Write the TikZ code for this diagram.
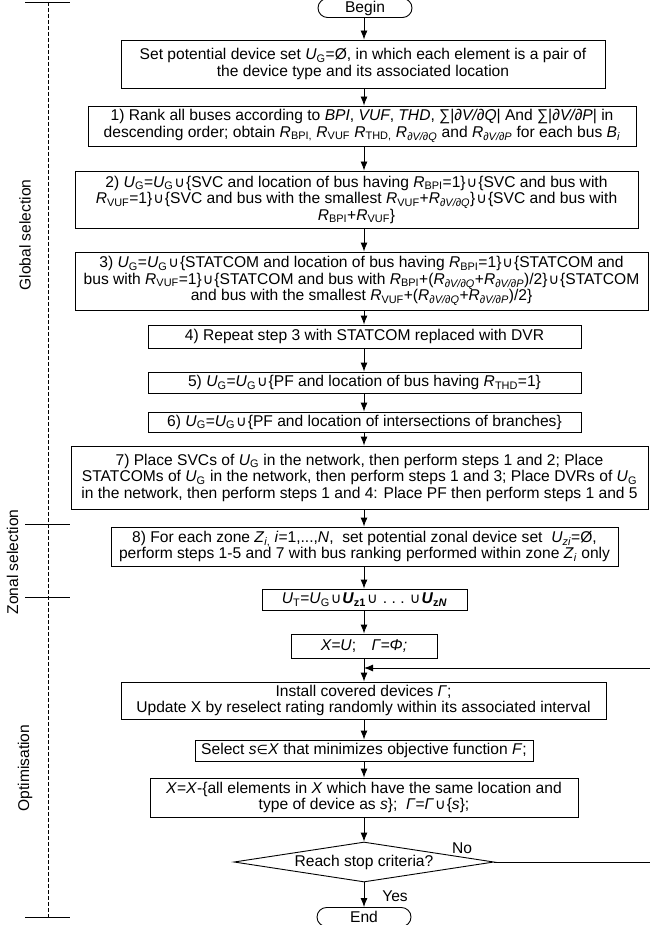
\documentclass[tikz,border=0pt]{standalone}
\usepackage{fontspec}
\setmainfont{Liberation Sans}
\newfontfamily\symfont{DejaVu Sans}
\usetikzlibrary{arrows.meta}
\usetikzlibrary{shapes.geometric,shapes.misc}

\newcommand{\Rx}[1]{\textit{R}\textsubscript{#1}}
\newcommand{\Ux}[1]{\textit{U}\textsubscript{#1}}
\newcommand{\uu}{{\kern1pt\symfont\fontsize{14.5}{14.5}\selectfont ∪\kern1pt}}
\newcommand{\pq}{\textit{∂V/∂Q}}
\newcommand{\pp}{\textit{∂V/∂P}}

\tikzset{
	txt/.style={font=\fontsize{15.6}{16.5}\selectfont},
	box/.style={txt,draw,rectangle,inner sep=0pt,align=center},
	term/.style={txt,draw,rounded rectangle,inner sep=0pt,minimum width=94pt,minimum height=19pt},
	test/.style={txt,draw,diamond,aspect=6.5,inner sep=0pt,minimum width=260pt,minimum height=40pt},
	flow/.style={-{Latex[length=9pt,width=7pt]}},
	phase/.style={txt,rotate=90},
}

\begin{document}
\begin{tikzpicture}[x=1pt,y=-1pt,line width=0.9pt]
			\useasboundingbox (0,0) rectangle (649,925);
			\coordinate (ax) at (364,0);
			\coordinate (rt) at (652,0);
			\coordinate (back) at (364,668);
			\draw[dash pattern=on 4pt off 2pt,line width=0.6pt] (48,2) -- (48,917);
			\draw (25,2) -- (70,2);
			\draw (25,524) -- (70,524);
			\draw (25,597) -- (70,597);
			\draw (25,917) -- (70,917);
			\node[phase] (glob) at (25,235) {Global selection};
			\node[phase] (zon) at (12.5,562) {Zonal selection};
			\node[phase] (opt) at (25,768) {Optimisation};
			\node[term] (begin) at (365,8) {Begin};
			\node[box,minimum width=484pt,minimum height=48pt] (set) at (363,64) {Set potential device set \Ux{G}=Ø, in which each element is a pair of\\the device type and its associated location};
			\node[box,minimum width=548pt,minimum height=40pt] (rank) at (362,126) {1) Rank all buses according to \textit{BPI}, \textit{VUF}, \textit{THD}, ∑|\pq| And ∑|\pp| in\\descending order; obtain \Rx{BPI,} \Rx{VUF} \Rx{THD,} \Rx{\pq} and \Rx{\pp} for each bus \textit{B}\textsubscript{\textit{i}}};
			\node[box,minimum width=563pt,minimum height=57pt] (svc) at (356.5,199.5) {2) \Ux{G}=\Ux{G}\uu\{SVC and location of bus having \Rx{BPI}=1\}\uu\{SVC and bus with\\\Rx{VUF}=1\}\uu\{SVC and bus with the smallest \Rx{VUF}+\Rx{\pq}\}\uu\{SVC and bus with\\\Rx{BPI}+\Rx{VUF}\}};
			\node[box,minimum width=573pt,minimum height=58pt] (stat) at (361.5,281) {3) \Ux{G}=\Ux{G}\uu\{STATCOM and location of bus having \Rx{BPI}=1\}\uu\{STATCOM and\\bus with \Rx{VUF}=1\}\uu\{STATCOM and bus with \Rx{BPI}+(\Rx{\pq}+\Rx{\pp})/2\}\uu\{STATCOM\\and bus with the smallest \Rx{VUF}+(\Rx{\pq}+\Rx{\pp})/2\}};
			\node[box,minimum width=433pt,minimum height=23pt] (dvr) at (364.5,336.5) {4) Repeat step 3 with STATCOM replaced with DVR};
			\node[box,minimum width=433pt,minimum height=21pt] (pf) at (364.5,382.5) {5) \Ux{G}=\Ux{G}\uu\{PF and location of bus having \Rx{THD}=1\}};
			\node[box,minimum width=433pt,minimum height=20pt] (brn) at (364.5,422) {6) \Ux{G}=\Ux{G}\uu\{PF and location of intersections of branches\}};
			\node[box,minimum width=577pt,minimum height=63pt] (place) at (359.5,477.5) {7) Place SVCs of \Ux{G} in the network, then perform steps 1 and 2; Place\\STATCOMs of \Ux{G} in the network, then perform steps 1 and 3; Place DVRs of \Ux{G}\\in the network, then perform steps 1 and 4: Place PF then perform steps 1 and 5};
			\node[box,minimum width=507pt,minimum height=39pt] (zone) at (364.5,546.5) {8) For each zone \textit{Z}\textsubscript{\textit{i},} \textit{i}=1,...,\textit{N},\ \ set potential zonal device set\ \ \Ux{\textit{zi}}=Ø,\\perform steps 1-5 and 7 with bus ranking performed within zone \textit{Z}\textsubscript{\textit{i}} only};
			\node[box,minimum width=205pt,minimum height=21pt] (tot) at (364.5,599.5) {\Ux{T}=\Ux{G}\uu\textbf{\textit{U}\textsubscript{z1}}\uu\ .\ .\ .\ \uu\textbf{\textit{U}\textsubscript{z\textit{N}}}};
			\node[box,minimum width=146pt,minimum height=24pt] (xu) at (364,646) {\textit{X=U};\quad\textit{Γ=Φ;}};
			\node[box,minimum width=485pt,minimum height=37pt] (inst) at (363.5,700.5) {Install covered devices \textit{Γ};\\Update X by reselect rating randomly within its associated interval};
			\node[box,minimum width=338pt,minimum height=21pt] (sel) at (364,750.5) {Select \textit{s}{\symfont\fontsize{13}{13}\selectfont∈}\textit{X} that minimizes objective function \textit{F};};
			\node[box,minimum width=428pt,minimum height=39pt] (upd) at (364,797.5) {\textit{X}=\textit{X}-\{all elements in \textit{X} which have the same location and\\type of device as \textit{s}\};\ \ \textit{Γ}=\textit{Γ}\uu\{\textit{s}\};};
			\node[test] (stop) at (364,862) {Reach stop criteria?};
			\node[term] (end) at (364,917) {End};
			\node[txt] (no) at (462,848) {No};
			\node[txt] (yes) at (395,896) {Yes};
			\draw[flow] (begin.south -| ax) -- (set.north -| ax);
			\draw[flow] (set.south -| ax) -- (rank.north -| ax);
			\draw[flow] (rank.south -| ax) -- (svc.north -| ax);
			\draw[flow] (svc.south -| ax) -- (stat.north -| ax);
			\draw[flow] (stat.south -| ax) -- (dvr.north -| ax);
			\draw[flow] (dvr.south -| ax) -- (pf.north -| ax);
			\draw[flow] (pf.south -| ax) -- (brn.north -| ax);
			\draw[flow] (brn.south -| ax) -- (place.north -| ax);
			\draw[flow] (place.south -| ax) -- (zone.north -| ax);
			\draw[flow] (zone.south -| ax) -- (tot.north -| ax);
			\draw[flow] (tot.south -| ax) -- (xu.north -| ax);
			\draw[flow] (xu.south -| ax) -- (inst.north -| ax);
			\draw[flow] (inst.south -| ax) -- (sel.north -| ax);
			\draw[flow] (sel.south -| ax) -- (upd.north -| ax);
			\draw[flow] (upd.south -| ax) -- (stop.north -| ax);
			\draw[flow] (stop.south -| ax) -- (end.north -| ax);
			\draw[flow] (stop.east) -- (stop.east -| rt) |- (back);
		\end{tikzpicture}
\end{document}
